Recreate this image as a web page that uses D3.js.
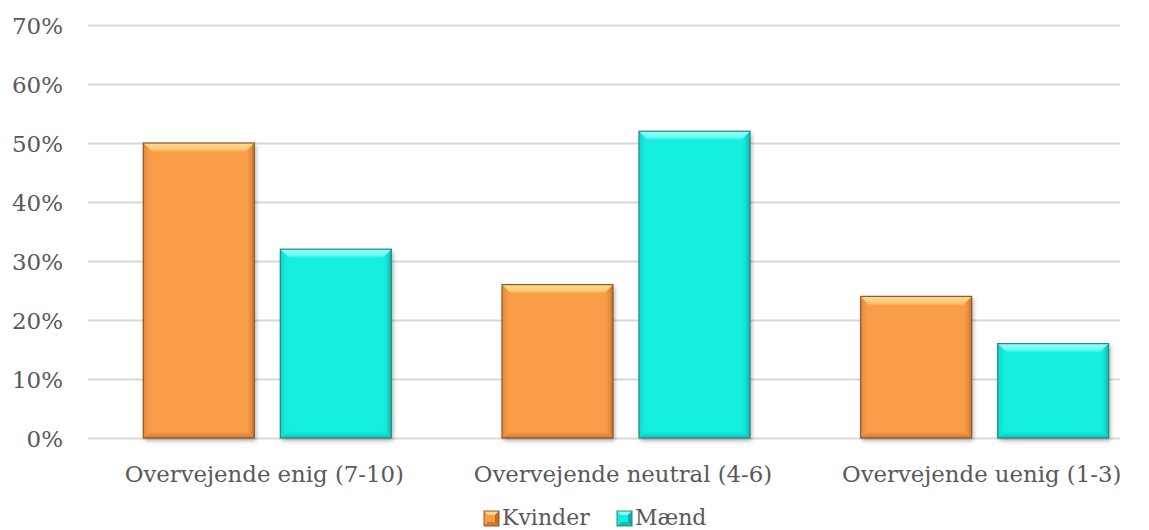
<!DOCTYPE html>
<html>
<head>
<meta charset="utf-8">
<script src="https://cdn.jsdelivr.net/npm/d3@7"></script>
<style>
  html, body { margin: 0; padding: 0; background: #fff; }
  svg { display: block; }
  text { font-family: "DejaVu Serif", "Liberation Serif", serif; fill: #595959; }
</style>
</head>
<body>
<svg id="chart" width="1149" height="530"></svg>
<script>
// Survey answers by gender (share of respondents)
const categories = ["Overvejende enig (7-10)", "Overvejende neutral (4-6)", "Overvejende uenig (1-3)"];
const seriesNames = ["Kvinder", "Mænd"];
const kvinder = [0.50, 0.26, 0.24];
const maend = [0.32, 0.52, 0.16];
const yTicks = [0, 0.1, 0.2, 0.3, 0.4, 0.5, 0.6, 0.7];

const palette = {
  "Kvinder": { base: "#F99D4A", light: "#FFD98A", dark: "#C06A22", stroke: "#8E5A2A" },
  "Mænd":    { base: "#13EEE0", light: "#8BFFF8", dark: "#0AAFA6", stroke: "#2E8782" }
};

const data = categories.map((c, i) => ({
  category: c,
  values: [
    { series: seriesNames[0], value: kvinder[i] },
    { series: seriesNames[1], value: maend[i] }
  ]
}));

const svg = d3.select("#chart");
const plot = { left: 88, right: 1120, top: 25, bottom: 438 };

const x0 = d3.scaleBand().domain(categories).range([88, 1164]).paddingInner(0).paddingOuter(0);
const x1 = d3.scaleBand().domain(seriesNames).range([0, x0.bandwidth()]).paddingInner(0.19).paddingOuter(0.404);
const y = d3.scaleLinear().domain([0, 0.7]).range([plot.bottom, plot.top]);

const defs = svg.append("defs");
const shadow = defs.append("filter").attr("id", "barShadow")
  .attr("x", "-10%").attr("y", "-10%").attr("width", "130%").attr("height", "130%");
shadow.append("feDropShadow").attr("dx", 1.5).attr("dy", 2.5).attr("stdDeviation", 2)
  .attr("flood-color", "#000").attr("flood-opacity", 0.35);

seriesNames.forEach((s, i) => {
  const p = palette[s];
  const id = "s" + i;
  const t = defs.append("linearGradient").attr("id", id + "-top").attr("x1", 0).attr("x2", 0).attr("y1", 0).attr("y2", 1);
  t.append("stop").attr("offset", "0%").attr("stop-color", p.light);
  t.append("stop").attr("offset", "60%").attr("stop-color", p.light).attr("stop-opacity", 0.8);
  t.append("stop").attr("offset", "100%").attr("stop-color", p.base);
  const l = defs.append("linearGradient").attr("id", id + "-left").attr("x1", 0).attr("x2", 1).attr("y1", 0).attr("y2", 0);
  l.append("stop").attr("offset", "0%").attr("stop-color", p.dark).attr("stop-opacity", 0.45);
  l.append("stop").attr("offset", "100%").attr("stop-color", p.base).attr("stop-opacity", 0);
  const r = defs.append("linearGradient").attr("id", id + "-right").attr("x1", 1).attr("x2", 0).attr("y1", 0).attr("y2", 0);
  r.append("stop").attr("offset", "0%").attr("stop-color", p.dark).attr("stop-opacity", 0.9);
  r.append("stop").attr("offset", "100%").attr("stop-color", p.base).attr("stop-opacity", 0);
  const b = defs.append("linearGradient").attr("id", id + "-bottom").attr("x1", 0).attr("x2", 0).attr("y1", 1).attr("y2", 0);
  b.append("stop").attr("offset", "0%").attr("stop-color", p.dark).attr("stop-opacity", 0.8);
  b.append("stop").attr("offset", "100%").attr("stop-color", p.base).attr("stop-opacity", 0);
});

// horizontal gridlines
svg.append("g").selectAll("line").data(yTicks).join("line")
  .attr("x1", plot.left).attr("x2", plot.right)
  .attr("y1", d => Math.round(y(d)) + 0.5).attr("y2", d => Math.round(y(d)) + 0.5)
  .attr("stroke", "#D9D9D9").attr("stroke-width", 2);

// y axis labels
const yAxis = d3.axisLeft(y).tickValues(yTicks).tickFormat(d3.format(".0%")).tickSize(0).tickPadding(0);
const ya = svg.append("g").attr("transform", "translate(63,0)").call(yAxis);
ya.select(".domain").remove();
ya.selectAll("text").attr("font-size", 23).attr("fill", "#595959")
  .attr("font-family", "DejaVu Serif, serif").attr("dy", "0.36em");

// bevelled bar drawing
function bevelBar(sel, x, yTop, w, h, idx) {
  const p = palette[seriesNames[idx]];
  const id = "s" + idx;
  const bv = Math.min(9, h / 2);
  const g = sel.append("g");
  g.append("rect").attr("x", x).attr("y", yTop).attr("width", w).attr("height", h)
    .attr("fill", p.base).attr("filter", "url(#barShadow)");
  g.append("path").attr("d", `M${x},${yTop} L${x + bv},${yTop + bv} L${x + bv},${yTop + h - bv} L${x},${yTop + h} Z`)
    .attr("fill", `url(#${id}-left)`);
  g.append("path").attr("d", `M${x + w},${yTop} L${x + w - bv},${yTop + bv} L${x + w - bv},${yTop + h - bv} L${x + w},${yTop + h} Z`)
    .attr("fill", `url(#${id}-right)`);
  g.append("path").attr("d", `M${x},${yTop + h} L${x + bv},${yTop + h - bv} L${x + w - bv},${yTop + h - bv} L${x + w},${yTop + h} Z`)
    .attr("fill", `url(#${id}-bottom)`);
  g.append("path").attr("d", `M${x},${yTop} L${x + w},${yTop} L${x + w - bv},${yTop + bv} L${x + bv},${yTop + bv} Z`)
    .attr("fill", `url(#${id}-top)`);
  g.append("rect").attr("x", x).attr("y", yTop).attr("width", w).attr("height", h)
    .attr("fill", "none").attr("stroke", p.stroke).attr("stroke-width", 1.2);
}

const groups = svg.append("g").selectAll("g").data(data).join("g")
  .attr("transform", d => `translate(${x0(d.category)},0)`);
groups.each(function(d) {
  const g = d3.select(this);
  d.values.forEach((v, i) => {
    const bx = x1(v.series);
    const top = y(v.value);
    bevelBar(g, bx, top, x1.bandwidth(), y(0) - top, i);
  });
});

// category labels
svg.append("g").selectAll("text").data(categories).join("text")
  .attr("x", d => x0(d) + x0.bandwidth() / 2 - 3)
  .attr("y", 482)
  .attr("text-anchor", "middle")
  .attr("font-size", 22.8)
  .text(d => d);

// legend
function bevelSwatch(sel, x, yTop, w, h, idx) {
  const p = palette[seriesNames[idx]];
  const bv = 4;
  const g = sel.append("g");
  g.append("rect").attr("x", x).attr("y", yTop).attr("width", w).attr("height", h).attr("fill", p.base);
  g.append("path").attr("d", `M${x},${yTop} L${x + w},${yTop} L${x + w - bv},${yTop + bv} L${x + bv},${yTop + bv} Z`)
    .attr("fill", p.light);
  g.append("path").attr("d", `M${x + w},${yTop} L${x + w - bv},${yTop + bv} L${x + w - bv},${yTop + h - bv} L${x + w},${yTop + h} Z`)
    .attr("fill", p.dark);
  g.append("path").attr("d", `M${x},${yTop + h} L${x + bv},${yTop + h - bv} L${x + w - bv},${yTop + h - bv} L${x + w},${yTop + h} Z`)
    .attr("fill", p.dark).attr("opacity", 0.7);
  g.append("rect").attr("x", x).attr("y", yTop).attr("width", w).attr("height", h)
    .attr("fill", "none").attr("stroke", p.stroke).attr("stroke-width", 1);
}
const legend = svg.append("g");
const legendItems = [
  { name: seriesNames[0], x: 484, tx: 502 },
  { name: seriesNames[1], x: 617, tx: 635 }
];
legendItems.forEach((it, i) => {
  bevelSwatch(legend, it.x, 511, 15, 15, i);
  legend.append("text").attr("x", it.tx).attr("y", 525).attr("font-size", 22).text(it.name);
});
</script>
</body>
</html>
